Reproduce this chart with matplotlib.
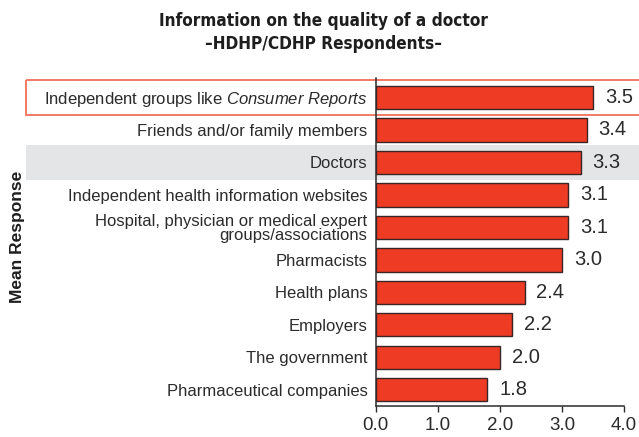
import matplotlib
matplotlib.use("Agg")
import matplotlib.pyplot as plt
import matplotlib.transforms as mtransforms
from matplotlib.patches import Rectangle

categories = [
    r"Independent groups like $\it{Consumer\ Reports}$",
    "Friends and/or family members",
    "Doctors",
    "Independent health information websites",
    "Hospital, physician or medical expert\ngroups/associations",
    "Pharmacists",
    "Health plans",
    "Employers",
    "The government",
    "Pharmaceutical companies",
]
values = [3.5, 3.4, 3.3, 3.1, 3.1, 3.0, 2.4, 2.2, 2.0, 1.8]
xticks = [0, 1, 2, 3, 4]

sans = ["Liberation Sans", "DejaVu Sans"]
plt.rcParams["font.family"] = sans
plt.rcParams["mathtext.fontset"] = "custom"
plt.rcParams["mathtext.rm"] = "Liberation Sans"
plt.rcParams["mathtext.it"] = "Liberation Sans:italic"

txt = "#2b2b2b"
bar_red = "#ee3b24"

fig = plt.figure(figsize=(6.39, 4.37), dpi=100)
ax = fig.add_axes([0.588, 0.071, 0.3885, 0.7505])
ax.patch.set_visible(False)

pos = list(range(len(categories)))
ax.barh(pos, values, height=0.72, color=bar_red, edgecolor="#3a2626",
        linewidth=1.0, zorder=3)
for p, v in zip(pos, values):
    ax.text(v + 0.19, p, f"{v:.1f}", va="center", ha="left",
            fontsize=14.5, color=txt, zorder=4)

ax.set_xlim(0, 4)
ax.set_ylim(9.5, -0.6)
ax.set_xticks(xticks)
ax.set_xticklabels([f"{t:.1f}" for t in xticks], fontsize=13.5, color=txt)
ax.set_yticks(pos)
ax.set_yticklabels(categories, fontsize=12, color=txt, linespacing=0.95)
ax.tick_params(axis="y", length=0, pad=6)
ax.tick_params(axis="x", length=4, width=1.0, color=txt, pad=4)
for s in ["top", "right"]:
    ax.spines[s].set_visible(False)
for s in ["left", "bottom"]:
    ax.spines[s].set_color(txt)
    ax.spines[s].set_linewidth(1.1)

# row highlights spanning the full width of the figure
trans = mtransforms.blended_transform_factory(fig.transFigure, ax.transData)
x0 = 26 / 639
ax.add_patch(Rectangle((x0, 2 - 0.55), 1 - x0, 1.08, transform=trans,
                       facecolor="#e4e5e7", edgecolor="none",
                       clip_on=False, zorder=0))
ax.add_patch(Rectangle((x0, -0.53), 1 - x0 + 0.01, 1.08, transform=trans,
                       facecolor="none", edgecolor="#f0705a", linewidth=1.3,
                       clip_on=False, zorder=1))

fig.text(0.507, 0.925, "Information on the quality of a doctor\n\u2013HDHP/CDHP Respondents\u2013",
         ha="center", va="center", fontsize=12.3, fontweight="bold",
         fontstretch="condensed", family=["DejaVu Sans"],
         color="#1e1e1e", linespacing=1.35)
fig.text(0.028, 0.458, "Mean Response", rotation=90, ha="center", va="center",
         fontsize=12.5, fontweight="bold", color="#1e1e1e")

fig.savefig("out.png", dpi=100)
